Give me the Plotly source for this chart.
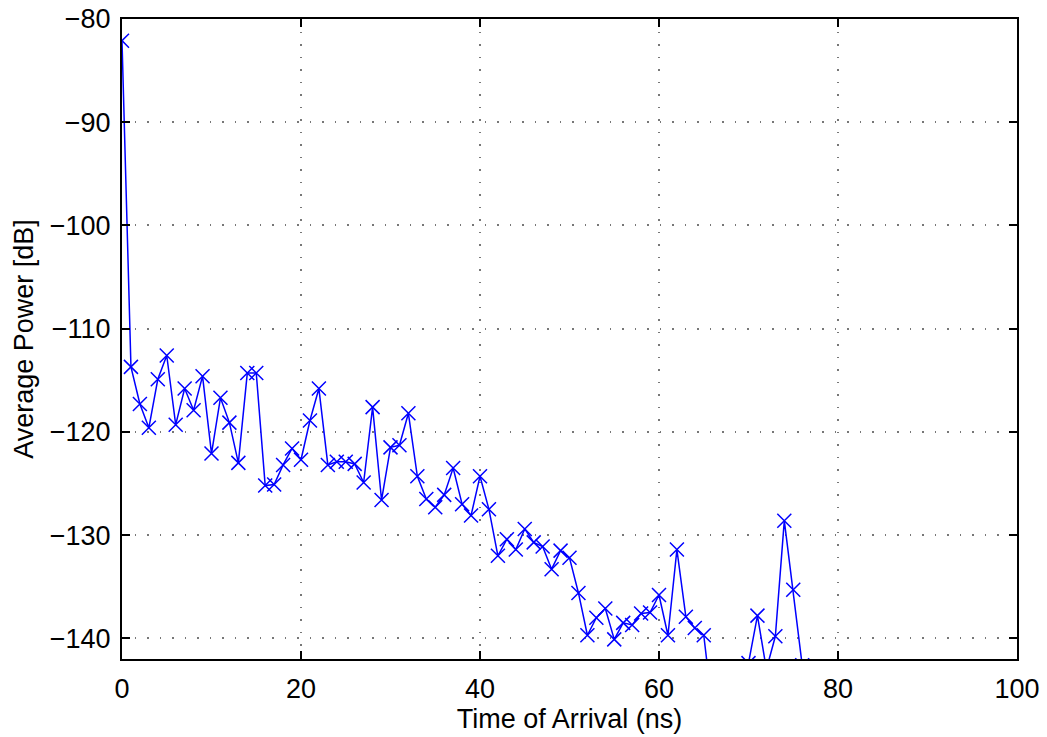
import plotly.graph_objects as go

# Arrival time of each multipath bin (ns)
time_ns = list(range(0, 77))

# Average received power per bin (dB); values under -142 dB fall below the plotted window
avg_power_db = [
    -82.1, -113.7, -117.3, -119.6, -114.9, -112.6, -119.3, -115.8, -117.9, -114.6,
    -122.1, -116.7, -119.1, -123.0, -114.3, -114.3, -125.2, -125.1, -123.2, -121.6,
    -122.7, -118.9, -115.8, -123.2, -122.9, -122.9, -123.1, -124.9, -117.6, -126.6,
    -121.5, -121.3, -118.2, -124.3, -126.5, -127.3, -126.1, -123.5, -127.0, -128.1,
    -124.3, -127.5, -132.0, -130.4, -131.4, -129.4, -130.7, -131.1, -133.3, -131.5,
    -132.2, -135.6, -139.7, -138.0, -137.1, -140.1, -138.5, -138.7, -137.6, -137.5,
    -135.8, -139.7, -131.4, -137.9, -139.0, -139.7, -147.0, -150.0, -151.0, -149.0,
    -142.4, -137.8, -143.0, -139.8, -128.6, -135.3, -142.6,
]

x_ticks = [0, 20, 40, 60, 80, 100]
y_ticks = [-140, -130, -120, -110, -100, -90, -80]

FONT = "Liberation Sans, Arial, Helvetica, sans-serif"

fig = go.Figure()
fig.add_trace(go.Scatter(
    x=time_ns,
    y=avg_power_db,
    mode="lines+markers",
    line=dict(color="#0000ff", width=1.5),
    marker=dict(symbol="x-thin", size=14, line=dict(color="#0000ff", width=1.5)),
    cliponaxis=True,
    showlegend=False,
))

axis_common = dict(
    showline=True,
    linecolor="black",
    linewidth=2,
    mirror="ticks",
    ticks="inside",
    ticklen=8,
    tickwidth=1.5,
    tickcolor="black",
    showgrid=True,
    gridcolor="#777777",
    griddash="1.5px,11px",
    gridwidth=1.5,
    zeroline=False,
    automargin=False,
    tickfont=dict(family=FONT, size=27, color="black"),
)

fig.update_xaxes(
    range=[0, 100],
    tickvals=x_ticks,
    ticklabelstandoff=5,
    title=dict(text="Time of Arrival (ns)",
               font=dict(family=FONT, size=27, color="black"),
               standoff=0),
    **axis_common,
)
fig.update_yaxes(
    range=[-142, -80],
    tickvals=y_ticks,
    ticklabelstandoff=4,
    title=dict(text="Average Power [dB]",
               font=dict(family=FONT, size=27, color="black"),
               standoff=8),
    **axis_common,
)

fig.update_layout(
    width=1047,
    height=737,
    margin=dict(l=122, r=30, t=19, b=78),
    paper_bgcolor="white",
    plot_bgcolor="white",
)

fig.write_html("out.html")
